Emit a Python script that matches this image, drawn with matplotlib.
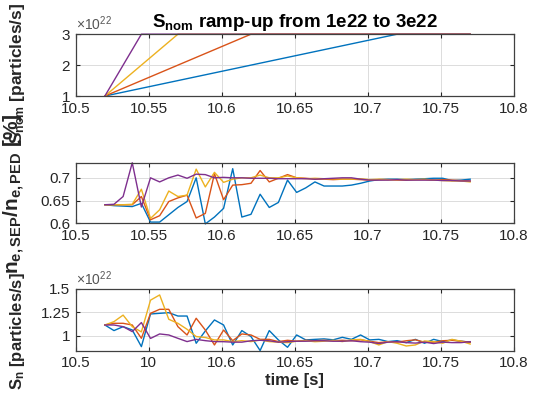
import numpy as np
import matplotlib
matplotlib.use("Agg")
import matplotlib.pyplot as plt

# MATLAB default line colours: blue, orange, yellow, purple
colors = ["#0072BD", "#D95319", "#EDB120", "#7E2F8E"]

# sample times of the simulation output
t = np.linspace(10.52, 10.77, 41)

# top panel: ramp from 1e22 to 3e22, end time of each ramp
ramp_start = 10.52
ramp_end = [10.72, 10.62, 10.57, 10.545]
t_final = 10.77
s_low = 1e22
s_high = 3e22

# middle panel: n_e,SEP / n_e,PED
ratio_blue = [0.641, 0.639, 0.638, 0.637, 0.644, 0.603, 0.603, 0.619, 0.635, 0.648, 0.700,
              0.599, 0.614, 0.633, 0.720, 0.614, 0.620, 0.664, 0.635, 0.646, 0.695, 0.668,
              0.678, 0.691, 0.682, 0.682, 0.682, 0.684, 0.688, 0.693, 0.696, 0.697, 0.697,
              0.696, 0.697, 0.698, 0.699, 0.699, 0.694, 0.695, 0.697]
ratio_orange = [0.641, 0.641, 0.641, 0.641, 0.659, 0.608, 0.617, 0.648, 0.656, 0.662, 0.612,
                0.622, 0.709, 0.652, 0.684, 0.685, 0.688, 0.716, 0.691, 0.699, 0.707, 0.700,
                0.699, 0.697, 0.697, 0.696, 0.697, 0.697, 0.696, 0.695, 0.696, 0.696, 0.695,
                0.695, 0.696, 0.696, 0.695, 0.696, 0.695, 0.694, 0.693]
ratio_yellow = [0.641, 0.641, 0.641, 0.642, 0.675, 0.611, 0.630, 0.671, 0.659, 0.662, 0.719,
                0.680, 0.712, 0.690, 0.697, 0.700, 0.700, 0.706, 0.700, 0.700, 0.704, 0.700,
                0.698, 0.699, 0.698, 0.698, 0.697, 0.697, 0.698, 0.696, 0.697, 0.696, 0.696,
                0.697, 0.696, 0.697, 0.695, 0.694, 0.693, 0.693, 0.691]
ratio_purple = [0.641, 0.642, 0.659, 0.733, 0.636, 0.700, 0.691, 0.700, 0.706, 0.699, 0.708,
                0.707, 0.700, 0.701, 0.700, 0.700, 0.699, 0.699, 0.699, 0.698, 0.698, 0.698,
                0.698, 0.697, 0.698, 0.699, 0.700, 0.700, 0.697, 0.695, 0.695, 0.695, 0.696,
                0.695, 0.695, 0.695, 0.695, 0.694, 0.694, 0.693, 0.693]

# bottom panel: S_n in units of 1e22 particles/s
sn_blue = [1.114, 1.054, 1.096, 1.061, 0.882, 1.232, 1.239, 1.246, 1.210, 1.210, 0.918,
           1.050, 1.168, 1.114, 0.900, 1.054, 0.990, 0.840, 1.054, 0.954, 0.875, 1.007,
           0.954, 0.960, 0.965, 0.955, 0.982, 0.960, 1.007, 0.954, 0.960, 0.936, 0.946,
           0.925, 0.960, 0.918, 0.960, 0.936, 0.954, 0.940, 0.930]
sn_orange = [1.114, 1.132, 1.132, 1.114, 0.971, 1.239, 1.282, 1.282, 1.096, 1.007, 1.186,
             1.060, 0.900, 1.060, 0.946, 1.018, 1.007, 0.960, 0.960, 0.936, 0.950, 0.940,
             0.950, 0.945, 0.950, 0.945, 0.950, 0.945, 0.955, 0.940, 0.925, 0.935, 0.930,
             0.945, 0.955, 0.930, 0.930, 0.945, 0.950, 0.940, 0.930]
sn_yellow = [1.114, 1.150, 1.220, 1.096, 1.040, 1.380, 1.436, 1.175, 1.132, 1.068, 0.990,
             0.980, 0.954, 0.954, 0.936, 0.946, 0.936, 0.954, 0.936, 0.930, 0.925, 0.940,
             0.945, 0.935, 0.940, 0.950, 0.936, 0.954, 0.960, 0.936, 0.900, 0.936, 0.918,
             0.889, 0.900, 0.943, 0.936, 0.918, 0.960, 0.940, 0.910]
sn_purple = [1.114, 1.114, 1.096, 1.043, 1.140, 0.970, 1.018, 1.007, 0.971, 0.936, 0.960,
             0.946, 0.936, 0.935, 0.930, 0.930, 0.945, 0.950, 0.945, 0.930, 0.935, 0.940,
             0.940, 0.945, 0.945, 0.940, 0.940, 0.945, 0.935, 0.930, 0.915, 0.930, 0.935,
             0.925, 0.920, 0.930, 0.915, 0.930, 0.925, 0.925, 0.935]

xticks = [10.5, 10.55, 10.6, 10.65, 10.7, 10.75, 10.8]
xticklabels = ["10.5", "10.55", "10.6", "10.65", "10.7", "10.75", "10.8"]
xticklabels_bottom = ["10.5", "10", "10.6", "10.65", "10.7", "10.75", "10.8"]

plt.rcParams["font.family"] = ["Liberation Sans", "DejaVu Sans"]
plt.rcParams["mathtext.fontset"] = "custom"
plt.rcParams["mathtext.rm"] = "Liberation Sans"
plt.rcParams["mathtext.bf"] = "Liberation Sans:bold"
plt.rcParams["mathtext.it"] = "Liberation Sans:italic"

txt = "#262626"
fig = plt.figure(figsize=(5.48, 4.07), dpi=100)
ax1 = fig.add_axes([0.138, 0.764, 0.800, 0.152])
ax2 = fig.add_axes([0.138, 0.451, 0.800, 0.148])
ax3 = fig.add_axes([0.138, 0.138, 0.800, 0.152])

def style(ax):
    ax.set_xlim(10.5, 10.8)
    ax.set_xticks(xticks)
    ax.grid(True, color="#dcdcdc", lw=0.7)
    ax.set_axisbelow(True)
    ax.tick_params(direction="in", top=True, right=True, length=3, width=0.8,
                   labelsize=11, colors=txt, pad=4)
    for sp in ax.spines.values():
        sp.set_color("#404040")
        sp.set_linewidth(0.9)

# top: nominal source ramps
for i in range(4):
    ax1.plot([ramp_start, ramp_end[i], t_final], [s_low, s_high, s_high],
             color=colors[i], lw=1.0, clip_on=False)
style(ax1)
ax1.set_ylim(1e22, 3e22)
ax1.set_yticks([1e22, 2e22, 3e22])
ax1.set_yticklabels(["1", "2", "3"])
ax1.set_xticklabels(xticklabels)
ax1.text(0.0, 1.02, r"$\times10^{22}$", transform=ax1.transAxes, fontsize=10,
         color="#555555", ha="left", va="bottom")
ax1.set_title(r"$\mathbf{S_{nom}}$ ramp-up from 1e22 to 3e22", fontsize=13.5,
              fontweight="bold", color="black", pad=5)
ax1.set_ylabel(r"$\mathbf{S_{nom}}$ [particles/s]", fontsize=12.5, fontweight="bold",
               color=txt)
ax1.yaxis.set_label_coords(-0.11, 0.36)

# middle: separatrix / pedestal density ratio
for i, r in enumerate([ratio_blue, ratio_orange, ratio_yellow, ratio_purple]):
    ax2.plot(t, r, color=colors[i], lw=1.0, clip_on=False)
style(ax2)
ax2.set_ylim(0.6, 0.732)
ax2.set_yticks([0.6, 0.65, 0.7])
ax2.set_yticklabels(["0.6", "0.65", "0.7"])
ax2.set_xticklabels(xticklabels)
ax2.set_ylabel(r"$\mathbf{n_{e,SEP}/n_{e,PED}}$ [%]", fontsize=15, fontweight="bold",
               color=txt)
ax2.yaxis.set_label_coords(-0.11, 0.5)

# bottom: actual source
for i, s in enumerate([sn_blue, sn_orange, sn_yellow, sn_purple]):
    ax3.plot(t, np.array(s) * 1e22, color=colors[i], lw=1.0)
style(ax3)
ax3.set_ylim(0.837e22, 1.5e22)
ax3.set_yticks([1e22, 1.25e22, 1.5e22])
ax3.set_yticklabels(["1", "1.25", "1.5"])
ax3.set_xticklabels(xticklabels_bottom)
ax3.text(0.0, 1.02, r"$\times10^{22}$", transform=ax3.transAxes, fontsize=10,
         color="#555555", ha="left", va="bottom")
ax3.set_ylabel(r"$\mathbf{S_n}$ [particles/s]", fontsize=12, fontweight="bold",
               color=txt)
ax3.yaxis.set_label_coords(-0.11, 0.32)
ax3.set_xlabel("time [s]", fontsize=12, fontweight="bold", color=txt, labelpad=2)

fig.savefig("out.png", dpi=100)
